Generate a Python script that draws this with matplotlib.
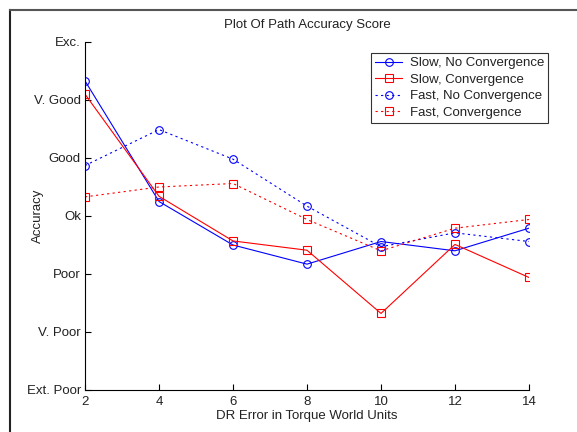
import matplotlib
matplotlib.use("Agg")
import matplotlib.pyplot as plt
from matplotlib.lines import Line2D

plt.rcParams['font.family'] = ['Liberation Sans', 'DejaVu Sans']

x = [2, 4, 6, 8, 10, 12, 14]
slow_nc = [5.33, 3.25, 2.50, 2.17, 2.56, 2.40, 2.79]
slow_c = [5.10, 3.34, 2.57, 2.41, 1.32, 2.51, 1.94]
fast_nc = [3.87, 4.49, 3.98, 3.17, 2.47, 2.71, 2.56]
fast_c = [3.33, 3.50, 3.56, 2.94, 2.40, 2.79, 2.94]
ytick_labels = ['Ext. Poor', 'V. Poor', 'Poor', 'Ok', 'Good', 'V. Good', 'Exc.']
series_names = ['Slow, No Convergence', 'Slow, Convergence',
                'Fast, No Convergence', 'Fast, Convergence']

W, H = 577, 432
fs = 9.5
fig = plt.figure(figsize=(W / 100, H / 100), dpi=100)
ax = fig.add_axes([85 / W, 1 - 390 / H, (529 - 85) / W, (390 - 42) / H])

lw = 0.8
ms = 5.5
ax.plot(x, slow_nc, color='#0000ff', ls='-', lw=lw, marker='o', ms=ms,
        mfc='none', mec='#0000ff', mew=0.8, label=series_names[0])
ax.plot(x, slow_c, color='#ff0000', ls='-', lw=lw, marker='s', ms=ms + 0.5,
        mfc='none', mec='#ff0000', mew=0.8, label=series_names[1])
ax.plot(x, fast_nc, color='#0000ff', ls=(0, (2, 3)), lw=lw, marker='o', ms=ms,
        mfc='none', mec='#0000ff', mew=0.8, label=series_names[2])
ax.plot(x, fast_c, color='#ff0000', ls=(0, (2, 3)), lw=lw, marker='s', ms=ms + 0.5,
        mfc='none', mec='#ff0000', mew=0.8, label=series_names[3])

ax.set_xlim(2, 14)
ax.set_ylim(0, 6)
ax.set_xticks(x)
ax.set_yticks(range(7))
ax.set_yticklabels(ytick_labels)
ax.spines['top'].set_visible(False)
ax.spines['right'].set_visible(False)
ax.spines['left'].set_linewidth(0.8)
ax.spines['bottom'].set_linewidth(0.8)
ax.tick_params(direction='in', length=4, width=0.8, labelsize=fs, pad=3,
               labelcolor='#222222')
ax.tick_params(axis='x', pad=4)
ax.set_xlabel('DR Error in Torque World Units', fontsize=fs, labelpad=2, color='#222222')
ax.set_ylabel('Accuracy', fontsize=fs, color='#222222')
ax.yaxis.set_label_coords((44 - 85) / (529 - 85), 0.5)
ax.set_title('Plot Of Path Accuracy Score', fontsize=fs, pad=10, color='#222222')

leg = ax.legend(loc='upper right', bbox_to_anchor=(548 / W, 1 - 53 / H),
                bbox_transform=fig.transFigure, fontsize=fs, frameon=True,
                fancybox=False, borderpad=0.3, labelspacing=0.33,
                handlelength=2.0, handletextpad=0.6, borderaxespad=0)
leg.get_frame().set_edgecolor('black')
leg.get_frame().set_linewidth(0.8)
for t in leg.get_texts():
    t.set_color('#222222')

# figure border (left and top)
fig.add_artist(Line2D([10 / W, 10 / W], [0, 1 - 10 / H], transform=fig.transFigure,
                      color='#222222', lw=1.5))
fig.add_artist(Line2D([10 / W, 1], [1 - 10 / H, 1 - 10 / H], transform=fig.transFigure,
                      color='#555555', lw=1.5))

fig.savefig('out.png', dpi=100)
